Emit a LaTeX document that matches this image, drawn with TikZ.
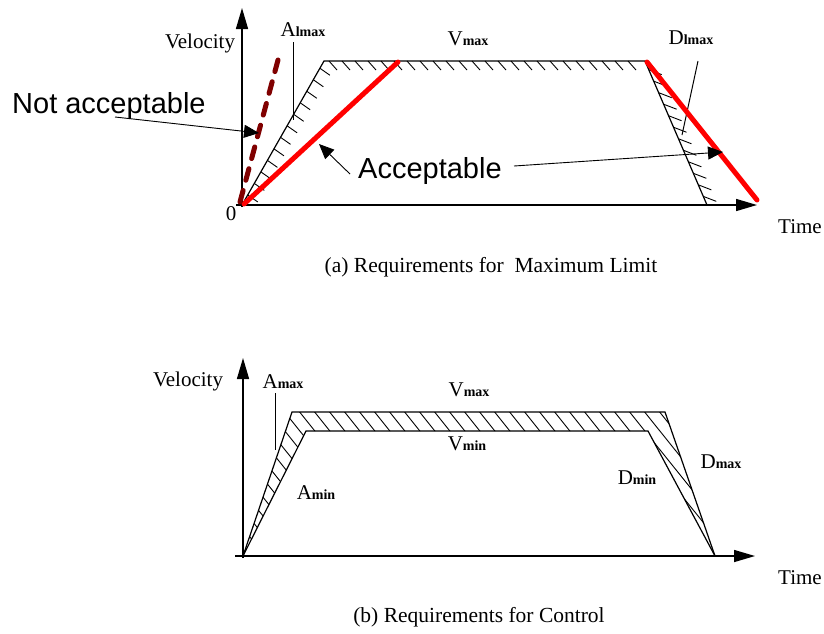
\documentclass[tikz,border=0pt]{standalone}
\usepackage{fontspec}
\setmainfont{Liberation Serif}
\newfontfamily\sansf{Liberation Sans}
\usetikzlibrary{arrows.meta}
\definecolor{accred}{HTML}{FF0000}
\definecolor{notred}{HTML}{800000}
\newcommand{\sbx}[1]{{\fontsize{14}{14}\selectfont\bfseries #1}}
\tikzset{
  lbl/.style={font=\fontsize{21}{21}\selectfont, inner sep=0pt},
  captxt/.style={font=\fontsize{21.5}{21.5}\selectfont, inner sep=0pt},
  bigtxt/.style={font=\sansf\fontsize{29}{29}\selectfont, inner sep=0pt},
  axis/.style={line width=1.5pt, -{Triangle[length=21pt,width=12pt]}},
  prof/.style={line width=1.2pt, line join=miter},
  tick/.style={line width=0.9pt},
  leader/.style={line width=1pt},
  callout/.style={line width=0.9pt, -{Triangle[length=15pt,width=13pt]}},
  okline/.style={accred, line width=5pt, line cap=round},
  badline/.style={notred, line width=5pt, line cap=round, dash pattern=on 12pt off 10.5pt}
}
\begin{document}
\begin{tikzpicture}[x=1pt,y=-1pt]
\useasboundingbox[fill=white] (0,0) rectangle (824,633);

% ================= (a) =================
\coordinate (a0) at (242,205);
\coordinate (aYs) at (242,207);
\coordinate (aYt) at (242,8);
\coordinate (aXs) at (236,205);
\coordinate (aXt) at (757,205);
\coordinate (aTL) at (324,61);
\coordinate (aTR) at (645,61);
\coordinate (aBR) at (707,205);

% hatching
\foreach \x in {329,342,...,640} \draw[tick] (\x,61) -- ++(8,9);
\foreach \t in {0.07,0.15,...,0.95} \draw[tick] ({242+82*\t},{205-144*\t}) -- ++(10,7);
\foreach \t in {0.06,0.14,...,0.97} \draw[tick] ({645+62*\t},{61+144*\t}) -- ++(13,5);

\draw[prof] (a0) -- (aTL) -- (aTR) -- (aBR);
\draw[axis] (aYs) -- (aYt);
\draw[axis] (aXs) -- (aXt);

% leaders
\coordinate (alT) at (293,42);
\coordinate (alB) at (293,120);
\draw[leader] (alT) -- (alB);
\coordinate (dlT) at (698,61);
\coordinate (dlB) at (682,135);
\draw[leader] (dlT) -- (dlB);

% labels
\node[lbl] (velA) at (200,43) {Velocity};
\node[lbl] (almax) at (303,30) {A\sbx{lmax}};
\node[lbl] (vmaxA) at (468,39) {V\sbx{max}};
\node[lbl] (dlmax) at (691,38) {D\sbx{lmax}};
\node[lbl] (zeroA) at (231,214) {0};
\node[lbl] (timeA) at (800,227) {Time};
\node[captxt] (capA) at (491,267) {(a) Requirements for \ Maximum Limit};

% acceptable / not acceptable lines
\coordinate (okS) at (244,204);
\coordinate (okE) at (398,62);
\draw[okline] (okS) -- (okE);
\coordinate (ok2S) at (647,62);
\coordinate (ok2E) at (757,200);
\draw[okline] (ok2S) -- (ok2E);
\coordinate (badS) at (240,202);
\coordinate (badE) at (278,60);
\draw[badline] (badS) -- (badE);

% callouts
\node[bigtxt, anchor=base west] (notacc) at (12,113) {Not acceptable};
\node[bigtxt, anchor=base west] (acc) at (358,178) {Acceptable};
\coordinate (naS) at (115,117);
\coordinate (naE) at (259,133);
\draw[callout] (naS) -- (naE);
\coordinate (acS) at (350,174);
\coordinate (acE) at (319,144);
\draw[callout] (acS) -- (acE);
\coordinate (ac2S) at (514,166);
\coordinate (ac2E) at (723,152);
\draw[callout] (ac2S) -- (ac2E);

% ================= (b) =================
\coordinate (b0) at (243,556);
\coordinate (bYs) at (243,558);
\coordinate (bYt) at (243,358);
\coordinate (bXs) at (235,556);
\coordinate (bXt) at (755,556);
\coordinate (bOTL) at (292,412);
\coordinate (bOTR) at (665,412);
\coordinate (bBR) at (715,556);
\coordinate (bITL) at (306,431);
\coordinate (bITR) at (648,431);

\begin{scope}
  \clip (b0) -- (bOTL) -- (bOTR) -- (bBR) -- (bITR) -- (bITL) -- cycle;
  \foreach \x in {110,125,...,690} \draw[tick] (\x,400) -- ++(130,162);
\end{scope}
\draw[prof] (b0) -- (bOTL) -- (bOTR) -- (bBR);
\draw[prof] (b0) -- (bITL) -- (bITR) -- (bBR);
\draw[axis] (bYs) -- (bYt);
\draw[axis] (bXs) -- (bXt);

\coordinate (amT) at (275,393);
\coordinate (amB) at (275,450);
\draw[leader] (amT) -- (amB);

\node[lbl] (velB) at (188,381) {Velocity};
\node[lbl] (amax) at (283,382) {A\sbx{max}};
\node[lbl] (amin) at (316,493) {A\sbx{min}};
\node[lbl] (vmaxB) at (469,390) {V\sbx{max}};
\node[lbl] (vminB) at (467,444) {V\sbx{min}};
\node[lbl] (dmax) at (721,462) {D\sbx{max}};
\node[lbl] (dmin) at (637,478) {D\sbx{min}};
\node[lbl] (timeB) at (800,578) {Time};
\node[captxt] (capB) at (479,617) {(b) Requirements for Control};
\end{tikzpicture}
\end{document}
